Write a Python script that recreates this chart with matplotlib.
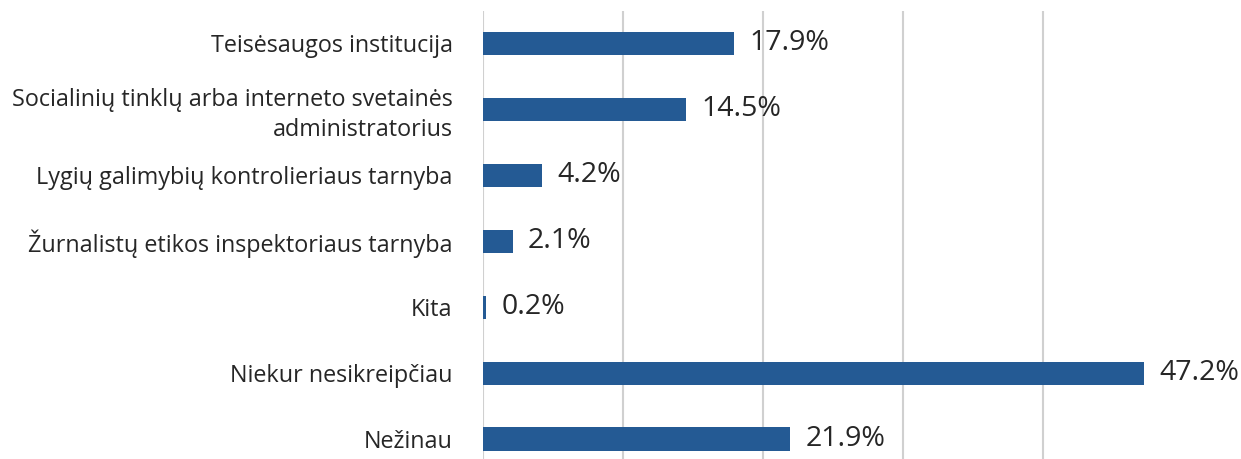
import matplotlib.pyplot as plt

# data, top to bottom as in the chart
categories = [
    'Teisėsaugos institucija',
    'Socialinių tinklų arba interneto svetainės\nadministratorius',
    'Lygių galimybių kontrolieriaus tarnyba',
    'Žurnalistų etikos inspektoriaus tarnyba',
    'Kita',
    'Niekur nesikreipčiau',
    'Nežinau',
]
values = [17.9, 14.5, 4.2, 2.1, 0.2, 47.2, 21.9]
value_labels = ['17.9%', '14.5%', '4.2%', '2.1%', '0.2%', '47.2%', '21.9%']

bar_color = '#245a94'
text_color = '#262626'

plt.rcParams['font.family'] = ['Open Sans', 'DejaVu Sans']

fig = plt.figure(figsize=(12.41, 4.59), dpi=100)
ax = fig.add_axes([483.3 / 1241, -13 / 459, 700 / 1241, 461.5 / 459])

ypos = list(range(len(categories)))
ax.barh(ypos, values, height=0.35, color=bar_color, zorder=3)

for y, v, lab in zip(ypos, values, value_labels):
    ax.annotate(lab, (v, y), xytext=(11, 0), textcoords='offset points',
                va='center', ha='left', fontsize=20.5, color=text_color)

ax.set_yticks(ypos)
ax.set_yticklabels(categories, fontsize=16.8, color=text_color, linespacing=1.3)
ax.set_ylim(len(categories) - 0.5, -0.5)
ax.set_xlim(0, 50)
ax.set_xticks([0, 10, 20, 30, 40])
ax.tick_params(axis='y', length=0, pad=22)
ax.tick_params(axis='x', length=0, labelbottom=False)
ax.grid(axis='x', color='#d0d0d0', linewidth=1.5, zorder=0)
for s in ax.spines.values():
    s.set_visible(False)

fig.savefig('out.png', dpi=100)
